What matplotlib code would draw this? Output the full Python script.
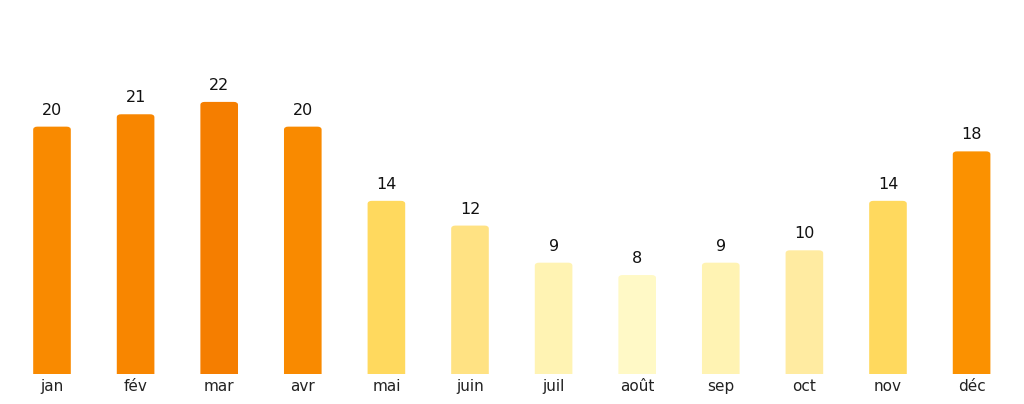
import matplotlib
matplotlib.use("Agg")
import matplotlib.pyplot as plt
from matplotlib.patches import FancyBboxPatch

months = ["jan", "fév", "mar", "avr", "mai", "juin", "juil", "août", "sep", "oct", "nov", "déc"]
values = [20, 21, 22, 20, 14, 12, 9, 8, 9, 10, 14, 18]
colors = ["#F98A00", "#F88600", "#F57E00", "#F98A00", "#FFD95E", "#FFE283",
          "#FFF3B3", "#FFF9C6", "#FFF3B3", "#FFEBA1", "#FFD95E", "#FB9100"]

fig = plt.figure(figsize=(10.24, 4.04), dpi=100)
ax_h = 0.8005
ymax = 26.15
ax = fig.add_axes([0.0, 0.0743, 1.0, ax_h])
ax.set_xlim(-0.622, 11.627)
ax.set_ylim(0, ymax)

width = 0.45
bars = ax.bar(range(len(values)), values, width=width, color=colors)
px_per_y = ax_h * 404 / ymax
for b, c in zip(bars, colors):
    b.set_visible(False)
    x0 = b.get_x()
    h = b.get_height()
    r = 0.05
    p = FancyBboxPatch((x0, -1.0), width, h + 1.0,
                       boxstyle=f"round,pad=0,rounding_size={r}",
                       mutation_aspect=3.0 / (r * px_per_y),
                       facecolor=c, edgecolor="none", clip_on=True)
    ax.add_patch(p)
    ax.annotate(f"{h:g}", (b.get_x() + width / 2, h), xytext=(0, 6.5),
                textcoords="offset points", ha="center", va="bottom",
                fontsize=11.5, color="#111111")

ax.set_xticks(range(len(months)))
ax.set_xticklabels(months, fontsize=11, color="#222222")
ax.tick_params(axis="x", length=0, pad=3.5)
ax.set_yticks([])
for s in ax.spines.values():
    s.set_visible(False)

fig.savefig("out.png", dpi=100)
